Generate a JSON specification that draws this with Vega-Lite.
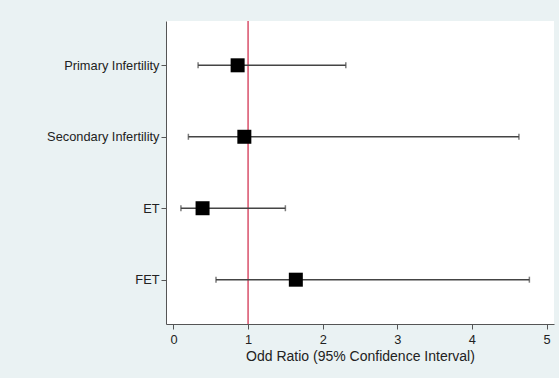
{
  "$schema": "https://vega.github.io/schema/vega-lite/v6.json",
  "width": 388,
  "height": 303,
  "autosize": {"type": "none"},
  "padding": {"left": 166, "top": 21, "right": 5, "bottom": 54},
  "background": "#EAF2F3",
  "config": {
    "view": {"fill": "white", "stroke": null},
    "font": "Liberation Sans",
    "axis": {
      "domainColor": "#555555",
      "tickColor": "#555555",
      "labelColor": "#222222",
      "titleColor": "#222222",
      "labelFontSize": 12.8,
      "titleFontSize": 14,
      "titleFontWeight": "normal",
      "grid": false,
      "tickSize": 5
    }
  },
  "data": {
    "values": [
      {"group": "Primary Infertility", "or": 0.86, "lo": 0.33, "hi": 2.31},
      {"group": "Secondary Infertility", "or": 0.95, "lo": 0.20, "hi": 4.63},
      {"group": "ET", "or": 0.39, "lo": 0.10, "hi": 1.50},
      {"group": "FET", "or": 1.64, "lo": 0.57, "hi": 4.77}
    ]
  },
  "encoding": {
    "y": {
      "field": "group",
      "type": "nominal",
      "sort": ["Primary Infertility", "Secondary Infertility", "ET", "FET"],
      "scale": {"type": "point", "padding": 0.62},
      "axis": {"title": null, "labelPadding": 2}
    }
  },
  "layer": [
    {
      "data": {"values": [{"ref": 1}]},
      "mark": {"type": "rule", "color": "#D9506A", "strokeWidth": 1.5},
      "encoding": {"x": {"field": "ref", "type": "quantitative"}, "y": null}
    },
    {
      "mark": {"type": "rule", "color": "#444444", "strokeWidth": 1.4},
      "encoding": {
        "x": {
          "field": "lo",
          "type": "quantitative",
          "scale": {"domain": [-0.1, 5.1], "nice": false, "zero": false},
          "axis": {
            "title": "Odd Ratio (95% Confidence Interval)",
            "values": [0, 1, 2, 3, 4, 5],
            "format": "d",
            "labelPadding": 4,
            "titlePadding": 4
          }
        },
        "x2": {"field": "hi"}
      }
    },
    {
      "mark": {"type": "tick", "color": "#444444", "orient": "vertical", "size": 6, "thickness": 1.5},
      "encoding": {"x": {"field": "lo", "type": "quantitative"}}
    },
    {
      "mark": {"type": "tick", "color": "#444444", "orient": "vertical", "size": 6, "thickness": 1.5},
      "encoding": {"x": {"field": "hi", "type": "quantitative"}}
    },
    {
      "mark": {"type": "square", "color": "black", "opacity": 1, "filled": true, "size": 196},
      "encoding": {"x": {"field": "or", "type": "quantitative"}}
    }
  ]
}
